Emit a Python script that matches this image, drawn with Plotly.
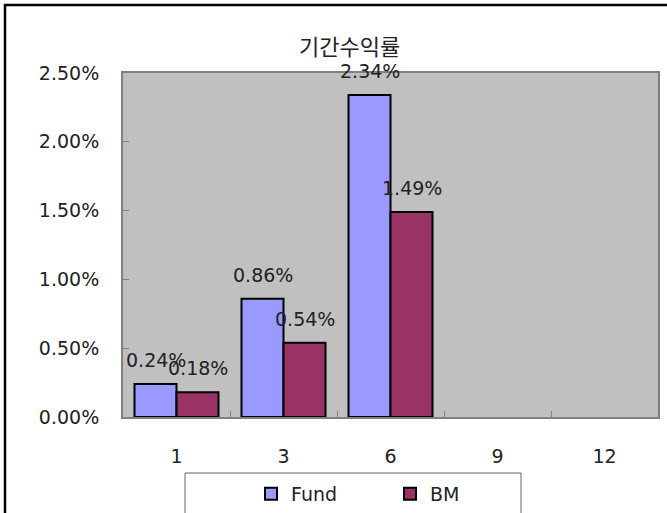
import plotly.graph_objects as go

categories = ["1", "3", "6", "9", "12"]
fund = [0.0024, 0.0086, 0.0234, None, None]
bm = [0.0018, 0.0054, 0.0149, None, None]
title_text = "기간수익률"
series_names = ["Fund", "BM"]

W, H = 667, 513
# plot area in reference pixels
L, R, T, B = 123, 658, 73, 417

def px_x(p):
    return (p - L) / (R - L)

def px_y(p):
    return (B - p) / (B - T)

FONT = "DejaVu Sans"
FS = 19

fig = go.Figure()
fig.add_trace(go.Bar(x=categories, y=fund, name=series_names[0],
                     marker=dict(color="#9999FF", line=dict(color="black", width=2))))
fig.add_trace(go.Bar(x=categories, y=bm, name=series_names[1],
                     marker=dict(color="#993366", line=dict(color="black", width=2))))

annotations = []
for vals, shift in ((fund, -21), (bm, 21)):
    for i, v in enumerate(vals):
        if v is None:
            continue
        annotations.append(dict(x=i, y=v, xref="x", yref="y", text=f"{v*100:.2f}%",
                                showarrow=False, xshift=shift, yshift=24,
                                yanchor="middle", font=dict(family=FONT, size=FS, color="#222")))
annotations.append(dict(text=title_text, xref="paper", yref="paper", x=px_x(349), y=px_y(45),
                        xanchor="center", yanchor="middle", showarrow=False,
                        font=dict(family="Noto Sans CJK KR", size=22, color="#222")))

shapes = [
    # outer frame
    dict(type="rect", xref="paper", yref="paper", x0=px_x(5), x1=px_x(720), y0=px_y(600), y1=px_y(5),
         line=dict(color="black", width=2.5), fillcolor="rgba(0,0,0,0)", layer="below"),
    # legend box
    dict(type="rect", xref="paper", yref="paper", x0=px_x(185), x1=px_x(521), y0=px_y(560), y1=px_y(473),
         line=dict(color="#666", width=1), fillcolor="white", layer="below"),
]

fig.update_layout(
    width=W, height=H,
    margin=dict(l=L, r=W - R, t=T, b=H - B, pad=0, autoexpand=False),
    paper_bgcolor="white",
    plot_bgcolor="#C0C0C0",
    barmode="group", bargap=0.215, bargroupgap=0,
    font=dict(family=FONT, size=FS, color="#222"),
    showlegend=True,
    legend=dict(orientation="h", x=px_x(251), y=px_y(494), xanchor="left", yanchor="middle",
                bgcolor="rgba(0,0,0,0)", borderwidth=0, font=dict(family=FONT, size=FS, color="#222"),
                entrywidth=94, entrywidthmode="pixels", itemwidth=30, traceorder="normal"),
    annotations=annotations,
    shapes=shapes,
)
fig.update_xaxes(type="category", showgrid=False, showline=True, linecolor="#808080", linewidth=2,
                 mirror=True, ticks="inside", tickson="boundaries", ticklen=6, tickcolor="#808080",
                 ticklabelstandoff=21, automargin=False, range=[-0.5, 4.5],
                 tickfont=dict(family=FONT, size=FS, color="#222"))
fig.update_yaxes(range=[0, 0.025], dtick=0.005, tickformat=".2%", showgrid=False, zeroline=False,
                 showline=True, linecolor="#808080", linewidth=2, mirror=True, automargin=False,
                 ticks="inside", ticklen=6, tickcolor="#808080", ticklabelstandoff=18,
                 tickfont=dict(family=FONT, size=FS, color="#222"))

fig.write_html("out.html", config={"displayModeBar": False},
               post_script="document.body.style.margin='0';document.body.style.overflow='hidden';")
